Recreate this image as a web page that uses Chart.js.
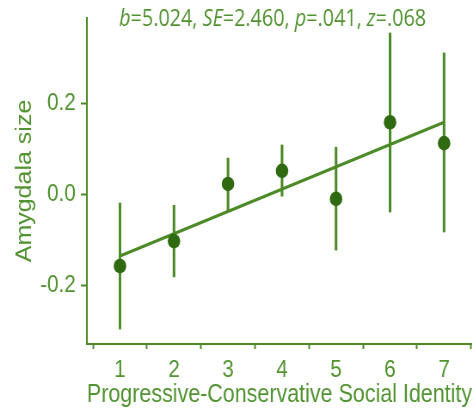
<!DOCTYPE html>
<html>
<head>
<meta charset="utf-8">
<script src="https://cdn.jsdelivr.net/npm/chart.js@4"></script>
<style>
  html, body { margin: 0; padding: 0; background: #ffffff; overflow: hidden; }
  #wrap {
    width: 549px; height: 408px;
    transform: scaleX(0.86); transform-origin: 0 0;
  }
</style>
</head>
<body>
<div id="wrap"><canvas id="c"></canvas></div>
<script>
// Mean amygdala size per identity level, with interval bounds
const identity = [1, 2, 3, 4, 5, 6, 7];
const amygdalaMean = [-0.158, -0.103, 0.023, 0.052, -0.010, 0.159, 0.113];
const ciLow  = [-0.297, -0.182, -0.037, -0.004, -0.123, -0.039, -0.083];
const ciHigh = [-0.019, -0.024, 0.080, 0.109, 0.104, 0.356, 0.312];

// Fitted regression line end points
const fitX = [1, 7];
const fitY = [-0.136, 0.159];

const xTicks = [1, 2, 3, 4, 5, 6, 7];
const yTicks = [-0.2, 0.0, 0.2];

// Statistics caption, italic parts flagged
const caption = [
  ['b', true], ['=5.024, ', false],
  ['SE', true], ['=2.460, ', false],
  ['p', true], ['=.041, ', false],
  ['z', true], ['=.068', false]
];

const TEXT = '#519330';
const LINE = '#4c8a27';
const DOT = '#2f6a10';

const captionPlugin = {
  id: 'caption',
  afterDraw(chart) {
    const ctx = chart.ctx;
    const area = chart.chartArea;
    const size = 23;
    ctx.save();
    ctx.fillStyle = TEXT;
    ctx.textBaseline = 'alphabetic';
    ctx.textAlign = 'left';
    let total = 0;
    const widths = caption.map(([t, it]) => {
      ctx.font = (it ? 'italic ' : '') + size + 'px "Open Sans"';
      const w = ctx.measureText(t).width;
      total += w;
      return w;
    });
    let x = (area.left + area.right) / 2 - 8 - total / 2;
    const y = area.top + 8;
    caption.forEach(([t, it], i) => {
      ctx.font = (it ? 'italic ' : '') + size + 'px "Open Sans"';
      ctx.fillText(t, x, y);
      x += widths[i];
    });
    ctx.restore();
  }
};

new Chart(document.getElementById('c'), {
  type: 'scatter',
  data: {
    datasets: [
      {
        type: 'bar',
        data: identity.map((x, i) => ({ x: x, y: [ciLow[i], ciHigh[i]] })),
        backgroundColor: LINE,
        borderWidth: 0,
        barThickness: 2.4,
        grouped: false,
        order: 3
      },
      {
        type: 'line',
        data: fitX.map((x, i) => ({ x: x, y: fitY[i] })),
        borderColor: LINE,
        borderWidth: 3.2,
        pointRadius: 0,
        fill: false,
        order: 2
      },
      {
        type: 'scatter',
        data: identity.map((x, i) => ({ x: x, y: amygdalaMean[i] })),
        backgroundColor: DOT,
        borderColor: DOT,
        borderWidth: 0,
        pointRadius: 7.3,
        order: 1
      }
    ]
  },
  options: {
    responsive: true,
    maintainAspectRatio: false,
    animation: false,
    devicePixelRatio: 1,
    layout: { autoPadding: false, padding: { top: 18, right: 0, bottom: 0, left: 0 } },
    plugins: {
      legend: { display: false },
      tooltip: { enabled: false }
    },
    scales: {
      x: {
        type: 'linear',
        min: 0.387,
        max: 7.52,
        offset: false,
        afterFit(s) {
          s.height = 64;
          s.paddingLeft = 0;
          s.paddingRight = 0;
        },
        afterBuildTicks(s) { s.ticks = xTicks.map(v => ({ value: v })); },
        grid: {
          drawOnChartArea: false,
          drawTicks: true,
          tickLength: 5,
          tickWidth: 2,
          tickColor: LINE
        },
        border: { display: true, color: LINE, width: 2 },
        ticks: {
          color: TEXT,
          padding: 7,
          maxRotation: 0,
          font: { family: '"Liberation Sans", Arial, sans-serif', size: 24 },
          callback: v => String(v)
        },
        title: {
          display: true,
          text: 'Progressive-Conservative Social Identity',
          color: TEXT,
          padding: { top: 0, bottom: 0 },
          font: { family: '"Liberation Sans", Arial, sans-serif', size: 26, lineHeight: 1 }
        }
      },
      y: {
        type: 'linear',
        min: -0.330,
        max: 0.389,
        afterFit(s) {
          s.width = 101;
          s.paddingTop = 0;
          s.paddingBottom = 0;
        },
        afterBuildTicks(s) { s.ticks = yTicks.map(v => ({ value: v })); },
        grid: {
          drawOnChartArea: false,
          drawTicks: true,
          tickLength: 7,
          tickWidth: 2,
          tickColor: LINE
        },
        border: { display: true, color: LINE, width: 2 },
        ticks: {
          color: TEXT,
          padding: 6,
          font: { family: '"Liberation Sans", Arial, sans-serif', size: 24 },
          callback: v => v.toFixed(1)
        },
        title: {
          display: true,
          text: 'Amygdala size',
          color: TEXT,
          padding: { top: 17, bottom: 0 },
          font: { family: '"Liberation Sans", Arial, sans-serif', size: 25, lineHeight: 1 }
        }
      }
    }
  },
  plugins: [captionPlugin]
});
</script>
</body>
</html>
